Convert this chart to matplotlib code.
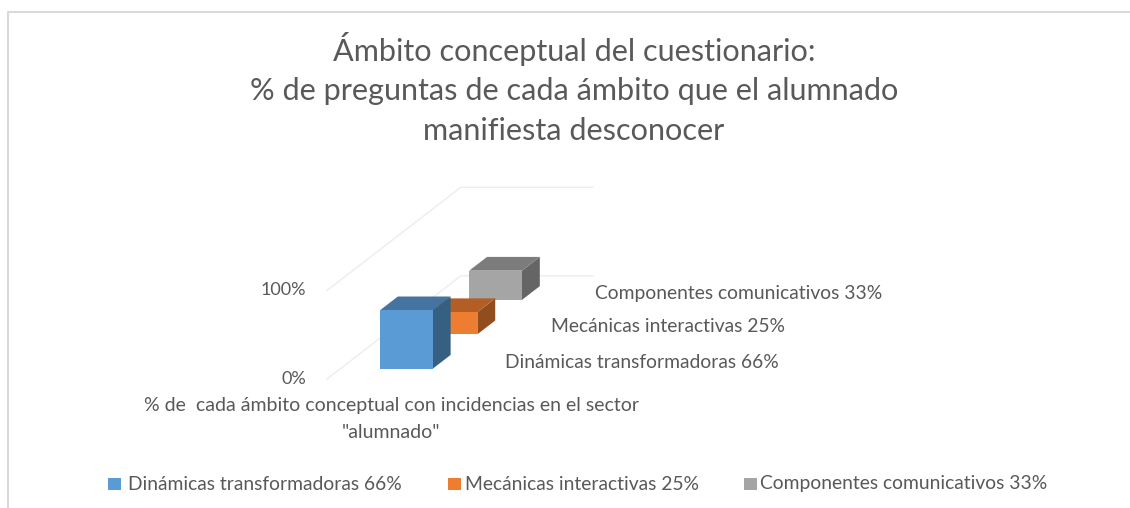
#!/usr/bin/env python
# coding: utf-8
import matplotlib
matplotlib.use('Agg')
import matplotlib.pyplot as plt
from matplotlib.patches import Polygon, Rectangle

## Data
series_names = ['Dinámicas transformadoras 66%', 'Mecánicas interactivas 25%', 'Componentes comunicativos 33%']
series_values = [66, 25, 33]
value_ticks = [0, 100]
value_tick_labels = ['0%', '100%']
category_label = '% de  cada ámbito conceptual con incidencias en el sector\n"alumnado"'
title_lines = ['Ámbito conceptual del cuestionario:',
               '% de preguntas de cada ámbito que el alumnado',
               'manifiesta desconocer']

front_colors = ['#5B9BD5', '#ED7D31', '#A5A5A5']
top_colors = ['#44749F', '#B25E25', '#7C7C7C']
side_colors = ['#366082', '#914D1E', '#656565']

text_color = '#595959'
plt.rcParams['font.family'] = ['Lato', 'DejaVu Sans']

W, H = 1130, 508
fig = plt.figure(figsize=(W / 100, H / 100), dpi=100)
ax = fig.add_axes([0, 0, 1, 1])
ax.set_xlim(0, W)
ax.set_ylim(H, 0)
ax.set_axis_off()


# oblique projection: x 0..1 category, d 0..3 series depth, v percent
def proj(x, d, v):
    return (327 + 132 * x + 44.6 * d, 379 - 34.4 * d - 0.885 * v)


def bar3d(i, value):
    x0, x1 = 0.3, 0.7
    d0, d1 = i + 0.3, i + 0.7
    front = [proj(x0, d0, 0), proj(x1, d0, 0), proj(x1, d0, value), proj(x0, d0, value)]
    top = [proj(x0, d0, value), proj(x1, d0, value), proj(x1, d1, value), proj(x0, d1, value)]
    side = [proj(x1, d0, 0), proj(x1, d1, 0), proj(x1, d1, value), proj(x1, d0, value)]
    ax.add_patch(Polygon(side, closed=True, fc=side_colors[i], ec='none', zorder=10 - i))
    ax.add_patch(Polygon(top, closed=True, fc=top_colors[i], ec='none', zorder=10 - i))
    ax.add_patch(Polygon(front, closed=True, fc=front_colors[i], ec='none', zorder=10 - i))


# outer frame, open at right and bottom
ax.plot([8, 8, W], [H, 12, 12], color='#D9D9D9', lw=1.5, zorder=1)

# gridlines on floor and back wall
for v, lab in zip(value_ticks, value_tick_labels):
    xs, ys = zip(proj(0, 0, v), proj(0, 3, v), proj(1, 3, v))
    ax.plot(xs, ys, color='#EDEDED', lw=1, zorder=1)
    ax.text(306, proj(0, 0, v)[1] - 0.5, lab, ha='right', va='center', fontsize=13, color=text_color)

for i, val in enumerate(series_values):
    bar3d(i, val)

# title
for y, line in zip([49, 91, 131], title_lines):
    ax.text(574, y, line, ha='center', va='center', fontsize=22.1, color=text_color)

# labels of the depth axis
for name, x, y in zip(series_names, [505, 551, 595], [362, 326, 293]):
    ax.text(x, y, name, ha='left', va='center', fontsize=13.9, color=text_color)

# category label
for y, line in zip([406, 432], category_label.split('\n')):
    ax.text(391, y, line, ha='center', va='center', fontsize=14, color=text_color)

# legend
for name, col, x, tx in zip(series_names, front_colors, [108, 448, 744], [128, 465, 760]):
    ax.add_patch(Rectangle((x, 478), 13, 12, fc=col, ec='none'))
    ax.text(tx, 484, name, ha='left', va='center', fontsize=13.9, color=text_color)

fig.savefig('out.png', dpi=100)
